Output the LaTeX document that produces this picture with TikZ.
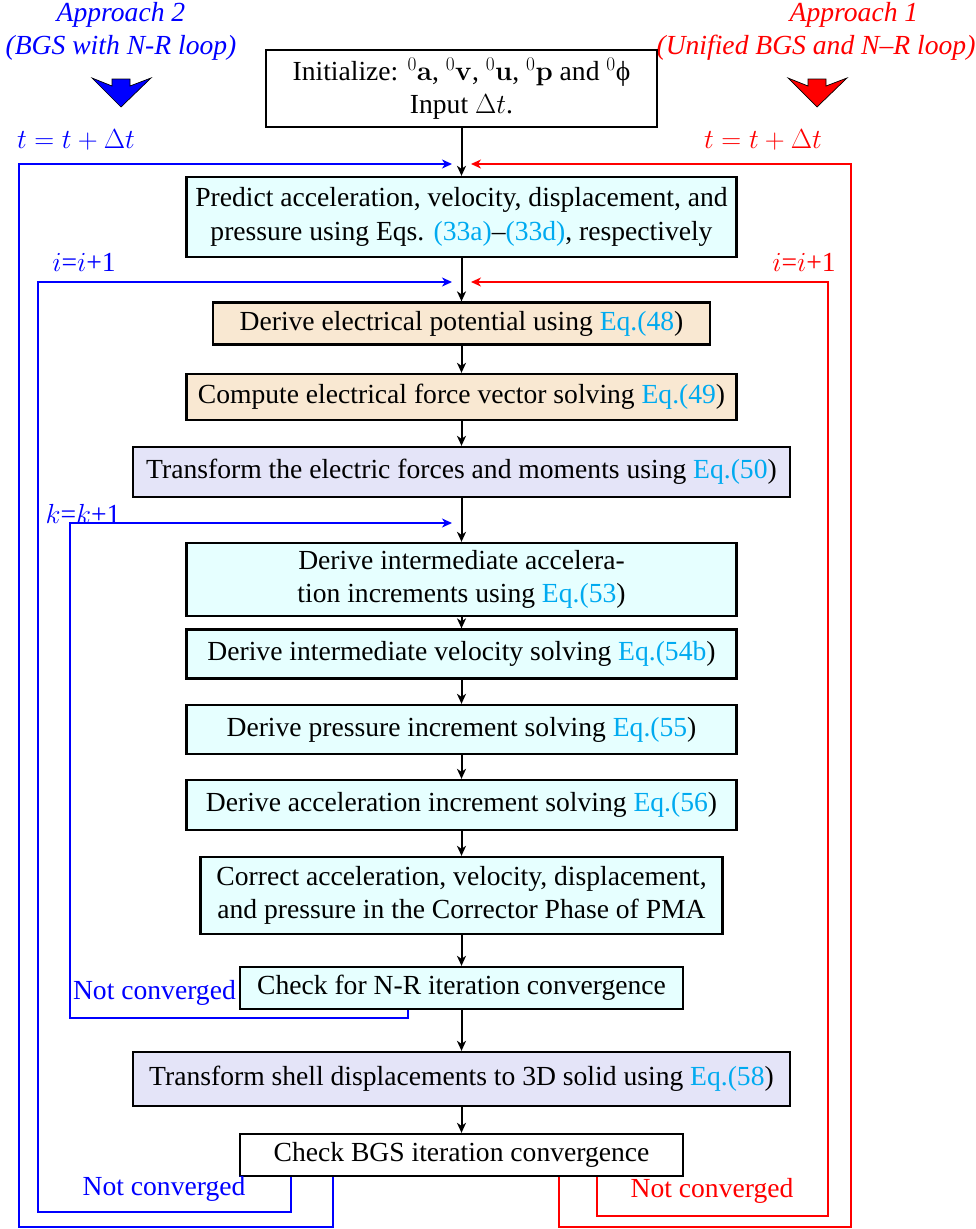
\RequirePackage{fix-cm}
\documentclass[tikz,border=0pt]{standalone}
\usepackage[no-math]{fontspec}
\setmainfont{Liberation Serif}
\usetikzlibrary{arrows.meta,calc}
\definecolor{eqc}{RGB}{0,170,240}
\definecolor{cyfill}{RGB}{230,255,255}
\definecolor{tanfill}{RGB}{249,232,210}
\definecolor{lavfill}{RGB}{228,228,248}
\newcommand{\eqr}[1]{\textcolor{eqc}{#1}}
\begin{document}
\begin{tikzpicture}[x=1pt,y=-1pt,
  font=\fontsize{27.6}{33.4}\selectfont,
  box/.style={draw=black, line width=2.3pt, align=center, inner sep=0pt, rectangle},
  cybox/.style={box, fill=cyfill},
  tanbox/.style={box, fill=tanfill},
  lavbox/.style={box, fill=lavfill},
  flow/.style={line width=2pt, -{Stealth[length=10pt,width=9pt,inset=3pt]}},
  bloop/.style={flow, draw=blue},
  rloop/.style={flow, draw=red},
  lbl/.style={inner sep=0pt},
  bigarrow/.style={line width=0.7pt, draw=black}
]
\useasboundingbox (0,0) rectangle (976,1229);

% headers
\node[lbl, text=blue, font=\fontsize{27.6}{33.4}\selectfont\itshape] (ap2a) at (121,15) {Approach 2};
\node[lbl, text=blue, font=\fontsize{27.6}{33.4}\selectfont\itshape] (ap2b) at (121,48) {(BGS with N-R loop)};
\node[lbl, text=red, font=\fontsize{27.6}{33.4}\selectfont\itshape] (ap1a) at (854,15) {Approach 1};
\node[lbl, text=red, font=\fontsize{27.6}{33.4}\selectfont\itshape] (ap1b) at (816,48) {(Unified BGS and N--R loop)};

\path[bigarrow, fill=blue] (112,79) -- (130,79) -- (130,86) -- (151,78) -- (121,107) -- (92,78) -- (112,86) -- cycle;
\path[bigarrow, fill=red] (808,79) -- (826,79) -- (826,86) -- (847,78) -- (817,107) -- (788,78) -- (808,86) -- cycle;

% boxes
\node[box, fill=white, minimum width=391pt, minimum height=77pt] (init) at (461.5,88.5)
  {Initialize: $^0\mathbf{a}$, $^0\mathbf{v}$, $^0\mathbf{u}$, $^0\mathbf{p}$ and $^0$ϕ\\Input $\Delta t$.};
\node[cybox, minimum width=550pt, minimum height=80pt] (pred) at (461.5,217)
  {Predict acceleration, velocity, displacement, and\\pressure using Eqs. \eqr{(33a)}--\eqr{(33d)}, respectively};
\node[tanbox, minimum width=497pt, minimum height=42pt] (elec) at (461.5,323.5)
  {Derive electrical potential using \eqr{Eq.(48})};
\node[tanbox, minimum width=550pt, minimum height=46pt] (force) at (461.5,397)
  {Compute electrical force vector solving \eqr{Eq.(49})};
\node[lavbox, minimum width=657pt, minimum height=50pt] (trans) at (461.5,472)
  {Transform the electric forces and moments using \eqr{Eq.(50})};
\node[cybox, minimum width=550pt, minimum height=73pt] (iacc) at (461.5,579.5)
  {Derive intermediate accelera-\\tion increments using \eqr{Eq.(53})};
\node[cybox, minimum width=550pt, minimum height=49pt] (ivel) at (461.5,654)
  {Derive intermediate velocity solving \eqr{Eq.(54b})};
\node[cybox, minimum width=550pt, minimum height=49pt] (pinc) at (461.5,729.5)
  {Derive pressure increment solving \eqr{Eq.(55})};
\node[cybox, minimum width=550pt, minimum height=50pt] (ainc) at (461.5,805)
  {Derive acceleration increment solving \eqr{Eq.(56})};
\node[cybox, minimum width=522pt, minimum height=77pt] (corr) at (461.5,895.5)
  {Correct acceleration, velocity, displacement,\\and pressure in the Corrector Phase of PMA};
\node[cybox, minimum width=443pt, minimum height=42pt] (cnr) at (461.5,988)
  {Check for N-R iteration convergence};
\node[lavbox, minimum width=657pt, minimum height=54pt] (shell) at (461.5,1079)
  {Transform shell displacements to 3D solid using \eqr{Eq.(58})};
\node[box, fill=white, minimum width=443pt, minimum height=42pt] (cbgs) at (461.5,1155)
  {Check BGS iteration convergence};

% junctions
\coordinate (tj) at (461.5,164);
\coordinate (ij) at (461.5,282);
\coordinate (kj) at (461.5,523);
\coordinate (tjl) at (452,164);
\coordinate (tjr) at (471,164);
\coordinate (ijl) at (452,282);
\coordinate (ijr) at (471,282);
\coordinate (kjl) at (452,523);

% main flow
\draw[flow] (init) -- (pred);
\draw[flow] (pred) -- (elec);
\draw[flow] (elec) -- (force);
\draw[flow] (force) -- (trans);
\draw[flow] (trans) -- (iacc);
\draw[flow] (iacc) -- (ivel);
\draw[flow] (ivel) -- (pinc);
\draw[flow] (pinc) -- (ainc);
\draw[flow] (ainc) -- (corr);
\draw[flow] (corr) -- (cnr);
\draw[flow] (cnr) -- (shell);
\draw[flow] (shell) -- (cbgs);

% loops
\draw[bloop] ([xshift=-53.5pt]cnr.south) |- (70,1018) |- (kjl);
\draw[bloop] ([xshift=-170.5pt]cbgs.south) |- (38,1212) |- (ijl);
\draw[bloop] ([xshift=-128.5pt]cbgs.south) |- (19,1227) |- (tjl);
\draw[rloop] ([xshift=135.5pt]cbgs.south) |- (828,1216) |- (ijr);
\draw[rloop] ([xshift=97.5pt]cbgs.south) |- (851,1227) |- (tjr);

% loop labels
\node[lbl, text=blue] (lt2) at (76,140) {$t = t + \Delta t$};
\node[lbl, text=red] (lt1) at (763,140) {$t = t + \Delta t$};
\node[lbl, text=blue] (li2) at (84,262) {$i$=$i$+1};
\node[lbl, text=red] (li1) at (804,262) {$i$=$i$+1};
\node[lbl, text=blue] (lk) at (83,514) {$k$=$k$+1};
\node[lbl, text=blue, anchor=east] (nc1) at (236,993) {Not converged};
\node[lbl, text=blue] (nc2) at (164,1189) {Not converged};
\node[lbl, text=red] (nc3) at (712,1191) {Not converged};
\end{tikzpicture}
\end{document}
